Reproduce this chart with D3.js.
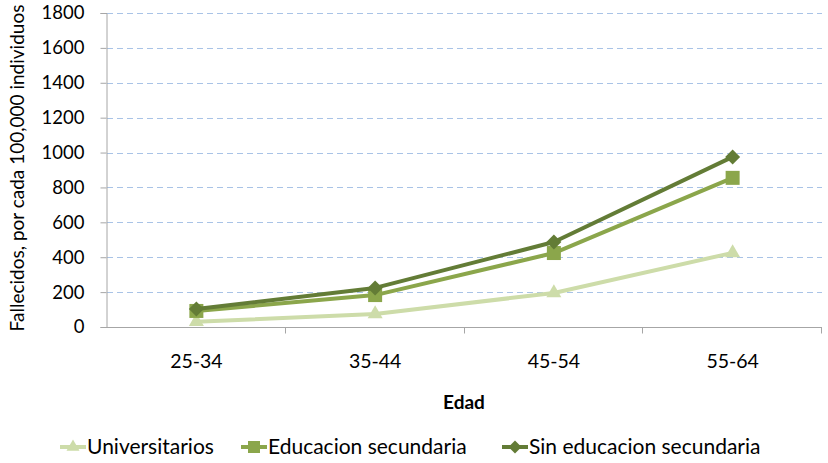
<!DOCTYPE html>
<html><head><meta charset="utf-8">
<script src="https://cdn.jsdelivr.net/npm/d3@7"></script>
<style>body{margin:0;background:#fff}text{font-family:Lato,"Open Sans",sans-serif;fill:#000}</style>
</head><body><svg id="c" width="828" height="463"></svg>
<script>
const categories = ["25-34","35-44","45-54","55-64"];
const universitarios = [30, 75, 195, 425];
const educacionSecundaria = [92, 183, 424, 855];
const sinEducacion = [103, 224, 487, 975];
const yTicks = [0,200,400,600,800,1000,1200,1400,1600,1800];
const seriesNames = ["Universitarios","Educacion secundaria","Sin educacion secundaria"];
const seriesColors = ["#CDDCA9","#8BA64B","#637C36"];
const seriesData = [universitarios, educacionSecundaria, sinEducacion];

function markerPath(kind, s) {
  if (kind === 0) { // triangle, side s
    const h = s * Math.sqrt(3) / 2;
    return `M0,${-h*2/3}L${s/2},${h/3}L${-s/2},${h/3}Z`;
  } else if (kind === 1) { // square
    return `M${-s/2},${-s/2}H${s/2}V${s/2}H${-s/2}Z`;
  } else { // diamond
    const r = s/2;
    return `M0,${-r}L${r},0L0,${r}L${-r},0Z`;
  }
}
const markerSizes = [15, 14, 15];

const svg = d3.select("#c");
const mLeft = 107, mRight = 822, mTop = 13, mBottom = 327;
const x = d3.scaleBand().domain(categories).range([mLeft, mRight]);
const y = d3.scaleLinear().domain([0,1800]).range([mBottom, mTop]);

// gridlines
svg.append("g").selectAll("line").data(yTicks.filter(d=>d>0)).join("line")
  .attr("x1", mLeft).attr("x2", mRight).attr("y1", d=>Math.round(y(d))+0.5).attr("y2", d=>Math.round(y(d))+0.5)
  .attr("stroke", "#A9C3E6").attr("stroke-width",1).attr("stroke-dasharray","6,4");

// y axis
const ya = svg.append("g").attr("transform",`translate(${mLeft-0.5},0)`)
  .call(d3.axisLeft(y).tickValues(yTicks).tickSize(6).tickPadding(16).tickFormat(d3.format("d")));
ya.select(".domain").attr("stroke","#A6A6A6");
ya.selectAll(".tick line").attr("stroke","#A6A6A6");
ya.selectAll(".tick text").attr("font-size","18.5px").attr("font-family","Lato").attr("fill","#000");

// x axis
const xa = svg.append("g").attr("transform",`translate(0,${mBottom+0.5})`)
  .call(d3.axisBottom(x).tickSize(0).tickPadding(27));
xa.select(".domain").attr("stroke","#A6A6A6").attr("d",`M${mLeft},0H${mRight}`);
xa.selectAll(".tick text").attr("font-size","19.5px").attr("font-family","Lato").attr("fill","#000");
xa.append("g").selectAll("line").data(categories.slice(1).map(c=>x(c)).concat([mRight])).join("line")
  .attr("x1",d=>Math.round(d)-0.5).attr("x2",d=>Math.round(d)-0.5).attr("y1",0).attr("y2",6).attr("stroke","#A6A6A6");

// axis titles
svg.append("text").attr("x", 464).attr("y", 409).attr("text-anchor","middle")
  .attr("font-size","19px").attr("font-weight","bold").text("Edad");
svg.append("text").attr("transform","translate(24,168) rotate(-90)").attr("text-anchor","middle")
  .attr("font-size","19px").text("Fallecidos, por cada 100,000 individuos");

// lines
const line = d3.line().x((d,i)=>x(categories[i])+x.bandwidth()/2).y(d=>y(d));
seriesData.forEach((vals, si) => {
  const g = svg.append("g");
  g.append("path").datum(vals).attr("d", line).attr("fill","none")
    .attr("stroke", seriesColors[si]).attr("stroke-width",4).attr("stroke-linejoin","round");
  g.selectAll("path.m").data(vals).join("path").attr("class","m")
    .attr("transform",(d,i)=>`translate(${x(categories[i])+x.bandwidth()/2},${y(d)})`)
    .attr("d", markerPath(si, markerSizes[si]))
    .attr("fill", seriesColors[si]);
});

// legend
const legendX = [60, 241, 502];
const lg = svg.append("g");
seriesNames.forEach((n, i) => {
  const gx = legendX[i], gy = 447;
  lg.append("line").attr("x1",gx).attr("x2",gx+26).attr("y1",gy).attr("y2",gy)
    .attr("stroke",seriesColors[i]).attr("stroke-width",4);
  lg.append("path").attr("transform",`translate(${gx+13},${gy})`)
    .attr("d", markerPath(i, markerSizes[i]-2)).attr("fill",seriesColors[i]);
  lg.append("text").attr("x",gx+27).attr("y",gy+7).attr("font-size","21px").text(n);
});
</script></body></html>
